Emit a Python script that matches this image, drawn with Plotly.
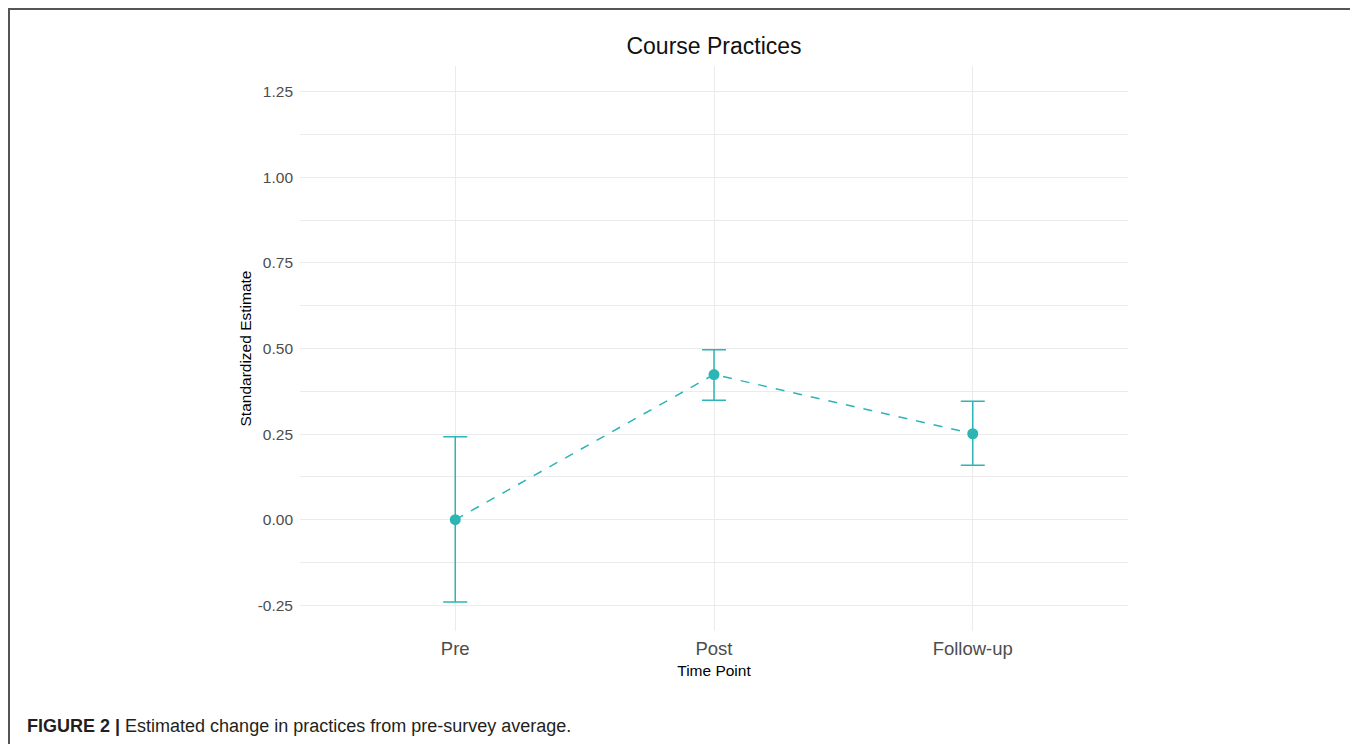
import plotly.graph_objects as go

# ---- data ----
time_points = ["Pre", "Post", "Follow-up"]
estimates = [0.0, 0.424, 0.251]
upper = [0.242, 0.496, 0.346]
lower = [-0.240, 0.349, 0.159]
y_tick_vals = [-0.25, 0.0, 0.25, 0.5, 0.75, 1.0, 1.25]
y_tick_text = ["-0.25", "0.00", "0.25", "0.50", "0.75", "1.00", "1.25"]

err_plus = [u - e for u, e in zip(upper, estimates)]
err_minus = [e - l for e, l in zip(estimates, lower)]

teal = "#2DB4B4"

# page body adds an 8px offset; work in screen coordinates and convert
OFF = 8
W, H = 1358 - OFF, 744 - OFF
L = 300 - OFF
T = 66 - OFF
R = W - (1128 - OFF)
B = H - (631 - OFF)
pw, ph = W - L - R, H - T - B

def px_x(x):
    return (x - OFF - L) / pw

def px_y(y):
    return (H - B - (y - OFF)) / ph

fig = go.Figure()
fig.add_trace(go.Scatter(
    x=time_points, y=estimates,
    mode="lines+markers",
    line=dict(color=teal, width=1.5, dash="dash"),
    marker=dict(color=teal, size=11),
    error_y=dict(type="data", symmetric=False, array=err_plus, arrayminus=err_minus,
                 color=teal, thickness=1.5, width=12),
    showlegend=False,
))

fig.add_shape(type="rect", xref="paper", yref="paper",
              x0=px_x(9), x1=px_x(1354), y0=px_y(770), y1=px_y(9),
              line=dict(color="#555555", width=2), fillcolor="rgba(0,0,0,0)", layer="below")

fig.add_annotation(xref="paper", yref="paper", x=px_x(25), y=px_y(726),
                   xanchor="left", yanchor="middle", showarrow=False,
                   text="<b>FIGURE 2 |</b> Estimated change in practices from pre-survey average.",
                   font=dict(family="Liberation Sans Narrow, Liberation Sans, Arial", size=18, color="#231F20"))

fig.update_layout(
    width=W, height=H,
    margin=dict(l=L, r=R, t=T, b=B),
    paper_bgcolor="white", plot_bgcolor="white",
    font=dict(family="Liberation Sans, Arial", color="#222222"),
    title=dict(text="Course Practices", xref="paper", x=0.5, xanchor="center",
               y=1 - (46 - OFF) / H, yanchor="middle",
               font=dict(size=23, color="#111111")),
)
fig.update_xaxes(
    type="category", range=[-0.6, 2.6],
    showgrid=True, gridcolor="#EBEBEB", gridwidth=1,
    zeroline=False, showline=False, ticks="",
    tickfont=dict(size=18.5, color="#4D4D4D"),
    ticklabelstandoff=4,
    title=dict(text="Time Point", font=dict(size=15.5, color="#000000"), standoff=7),
)
fig.update_yaxes(
    range=[-0.325, 1.325],
    tickvals=y_tick_vals, ticktext=y_tick_text,
    showgrid=True, gridcolor="#EBEBEB", gridwidth=1,
    minor=dict(tickvals=[-0.125, 0.125, 0.375, 0.625, 0.875, 1.125], showgrid=True,
               gridcolor="#EBEBEB", gridwidth=1),
    zeroline=False, showline=False, ticks="",
    tickfont=dict(size=15.5, color="#4D4D4D"),
    ticklabelstandoff=6,
    title=dict(text="Standardized Estimate", font=dict(size=15.5, color="#000000"), standoff=2),
)

fig.write_html("out.html")
